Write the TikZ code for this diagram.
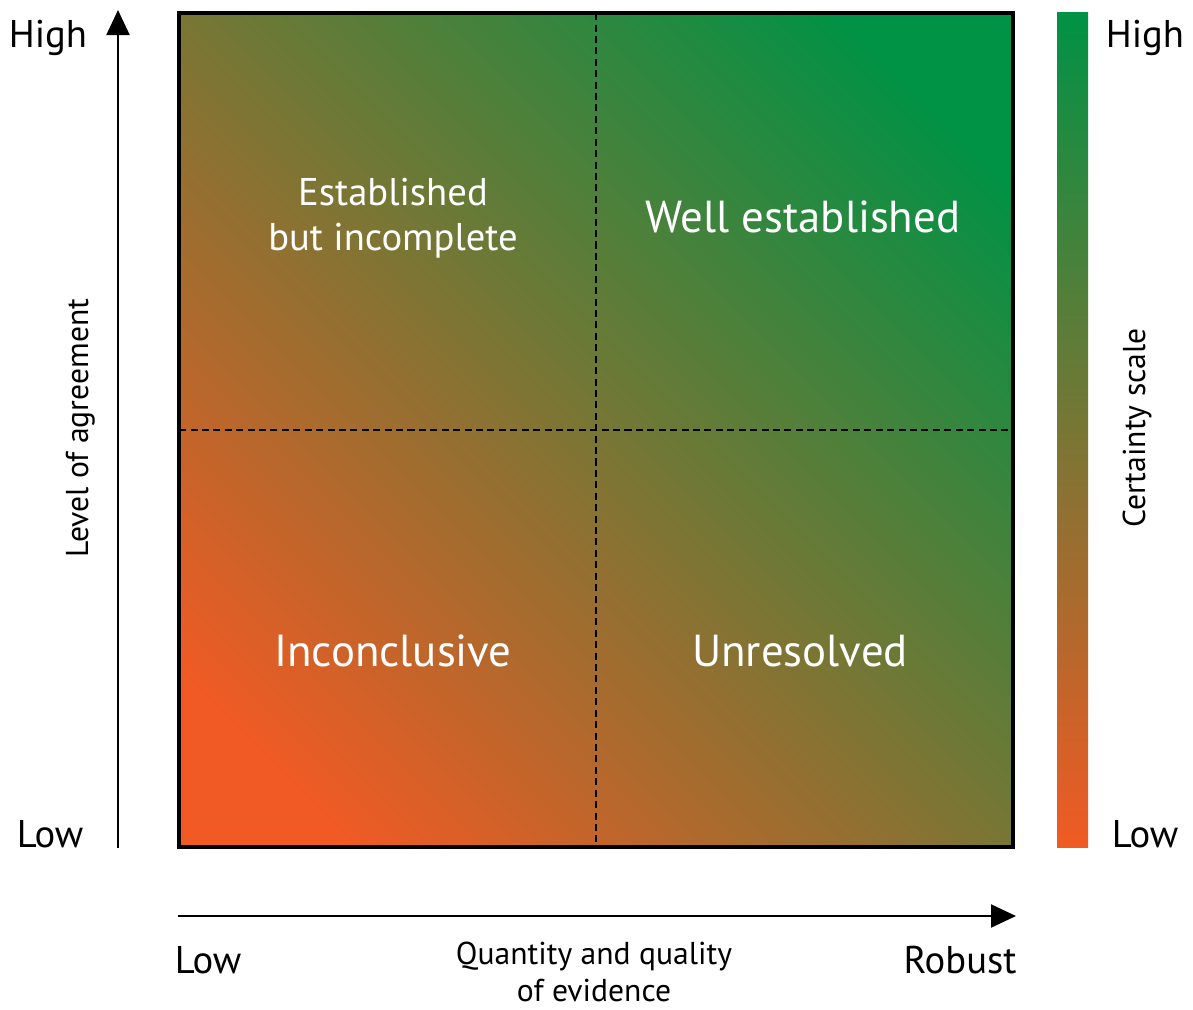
\documentclass[tikz,border=0pt]{standalone}
\usepackage{fontspec}
\setmainfont{PT Sans}
\usetikzlibrary{arrows.meta}
\definecolor{lowcert}{RGB}{241,90,36}
\definecolor{highcert}{RGB}{0,146,69}
\pgfdeclarehorizontalshading{certainty}{100bp}{color(0bp)=(lowcert); color(21.7bp)=(lowcert);
  color(78.3bp)=(highcert); color(100bp)=(highcert)}

\begin{document}
\begin{tikzpicture}[x=0.02cm,y=-0.02cm,
  axislabel/.style={anchor=base,font=\fontsize{22}{26}\selectfont},
  quadlabel/.style={anchor=base,text=white,font=\fontsize{25.5}{30}\selectfont},
  divider/.style={draw,dash pattern=on 4pt off 2.5pt,line width=0.7pt},
  axisarrow/.style={draw,line width=1.2pt,-{Triangle[length=0.5cm,width=0.46cm]}}]
\useasboundingbox (0,0) rectangle (1193,1009);

% agreement / evidence box
\node[draw,line width=2pt,outer sep=0pt,inner sep=0pt,minimum size=16.68cm,
  shading=certainty,shading angle=45] (box) at (596,430) {};
\path[divider] (box.north) -- (box.south);
\path[divider] (box.west) -- (box.east);

% certainty bar
\node[outer sep=0pt,inner sep=0pt,minimum width=0.62cm,minimum height=16.72cm,
  bottom color=lowcert,top color=highcert] (bar) at (1072.5,430) {};

% axes
\coordinate (yfoot) at (118,848);
\coordinate (ytip) at (118,10);
\coordinate (xfoot) at (178,916);
\coordinate (xtip) at (1016,916);
\path[axisarrow] (yfoot) -- (ytip);
\path[axisarrow] (xfoot) -- (xtip);

\node[axislabel] (yhigh) at (48,47) {High};
\node[axislabel] (ylow) at (50,847) {Low};
\node[axislabel] (barhigh) at (1145,47) {High};
\node[axislabel] (barlow) at (1145,847) {Low};
\node[axislabel] (xlow) at (208,973) {Low};
\node[axislabel] (xhigh) at (960,973) {Robust};
\node[align=center,font=\fontsize{18}{21}\selectfont] (xtitle) at (594,972) {Quantity and quality\\of evidence};
\node[axislabel,rotate=90,font=\fontsize{18}{21}\selectfont] (ytitle) at (88,428) {Level of agreement};
\node[axislabel,rotate=90,font=\fontsize{18}{21}\selectfont] (bartitle) at (1145,428) {Certainty scale};

% quadrants
\node[align=center,text=white,font=\fontsize{22}{25.6}\selectfont] (q2) at (393,218) {Established\\but incomplete};
\node[quadlabel] (q1) at (803,232) {Well established};
\node[quadlabel] (q3) at (393,666) {Inconclusive};
\node[quadlabel] (q4) at (800,666) {Unresolved};
\end{tikzpicture}
\end{document}
